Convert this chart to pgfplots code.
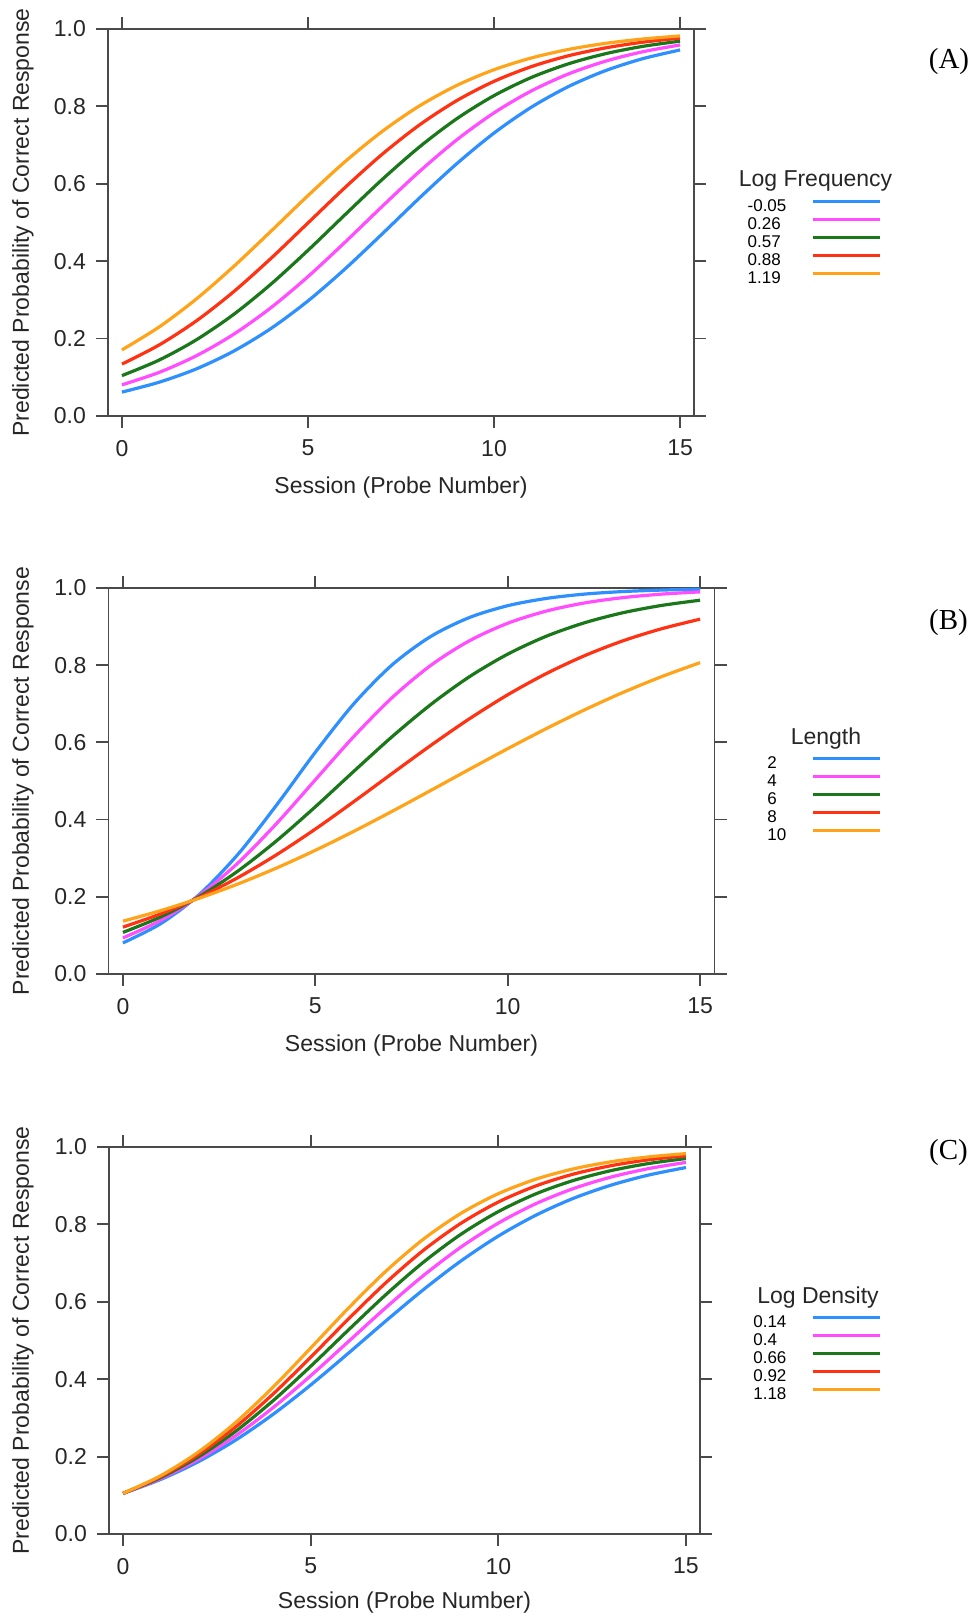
\documentclass[border=0pt]{standalone}
\usepackage{fontspec}
\setmainfont{Liberation Sans}
\newfontfamily\seriffont{Liberation Serif}
\usepackage{pgfplots}
\usepackage{pgfplotstable}
\pgfplotsset{compat=1.18}

\definecolor{cblue}{HTML}{2E8FFF}
\definecolor{cmag}{HTML}{FF4DFF}
\definecolor{cgreen}{HTML}{1A781A}
\definecolor{cred}{HTML}{FF3314}
\definecolor{corange}{HTML}{FFA31A}
\definecolor{frame}{HTML}{4A4A4A}

% panel A: log frequency
\pgfplotstableread{
x a1 a2 a3 a4 a5
0 0.0618 0.0805 0.1043 0.1341 0.1708
1 0.0873 0.1127 0.1445 0.1835 0.2300
2 0.1217 0.1556 0.1969 0.2458 0.3024
3 0.1674 0.2110 0.2623 0.3210 0.3861
4 0.2258 0.2795 0.3403 0.4068 0.4770
5 0.2973 0.3601 0.4280 0.4988 0.5695
6 0.3804 0.4494 0.5205 0.5907 0.6575
7 0.4710 0.5421 0.6116 0.6768 0.7357
8 0.5637 0.6321 0.6955 0.7523 0.8015
9 0.6520 0.7136 0.7682 0.8150 0.8542
10 0.7311 0.7833 0.8278 0.8647 0.8947
11 0.7977 0.8398 0.8746 0.9026 0.9250
12 0.8512 0.8838 0.9100 0.9308 0.9471
13 0.8925 0.9169 0.9362 0.9512 0.9629
14 0.9233 0.9412 0.9551 0.9659 0.9741
15 0.9458 0.9587 0.9686 0.9763 0.9820
}\freqtable

% panel B: length
\pgfplotstableread{
x a1 a2 a3 a4 a5
0 0.0805 0.0934 0.1077 0.1214 0.1368
1 0.1315 0.1399 0.1487 0.1564 0.1647
2 0.2073 0.2044 0.2017 0.1992 0.1969
3 0.3113 0.2886 0.2676 0.2503 0.2336
4 0.4386 0.3906 0.3457 0.3094 0.2749
5 0.5744 0.5030 0.4331 0.3754 0.3204
6 0.7000 0.6152 0.5250 0.4465 0.3696
7 0.8012 0.7163 0.6152 0.5197 0.4216
8 0.8744 0.7995 0.6980 0.5921 0.4755
9 0.9233 0.8630 0.7698 0.6608 0.5300
10 0.9541 0.9086 0.8286 0.7233 0.5837
11 0.9729 0.9401 0.8749 0.7781 0.6355
12 0.9842 0.9613 0.9100 0.8247 0.6844
13 0.9908 0.9751 0.9360 0.8633 0.7295
14 0.9946 0.9841 0.9548 0.8944 0.7703
15 0.9969 0.9899 0.9683 0.9192 0.8066
}\lentable

% panel C: log density
\pgfplotstableread{
x a1 a2 a3 a4 a5
0 0.1050 0.1050 0.1050 0.1050 0.1050
1 0.1409 0.1433 0.1458 0.1482 0.1506
2 0.1865 0.1926 0.1989 0.2050 0.2113
3 0.2427 0.2539 0.2654 0.2767 0.2882
4 0.3094 0.3267 0.3446 0.3619 0.3797
5 0.3851 0.4090 0.4334 0.4569 0.4805
6 0.4668 0.4968 0.5267 0.5550 0.5830
7 0.5503 0.5847 0.6182 0.6490 0.6787
8 0.6311 0.6675 0.7020 0.7328 0.7615
9 0.7052 0.7411 0.7742 0.8026 0.8283
10 0.7698 0.8033 0.8330 0.8578 0.8794
11 0.8237 0.8535 0.8789 0.8994 0.9168
12 0.8673 0.8925 0.9135 0.9299 0.9434
13 0.9013 0.9222 0.9389 0.9516 0.9618
14 0.9274 0.9441 0.9572 0.9669 0.9744
15 0.9469 0.9602 0.9702 0.9774 0.9829
}\dentable

\pgfplotsset{
  probe/.style={
    scale only axis,
    anchor=south west,
    clip=false,
    xmin=-0.375, xmax=15.375, ymin=0, ymax=1,
    xtick={0,5,10,15}, ytick={0,0.2,0.4,0.6,0.8,1.0},
    tick align=outside, tick pos=both,
    major tick length=6pt,
    axis line style={frame, line width=0.9pt},
    every tick/.style={frame, line width=0.9pt},
    tick label style={font=\fontsize{11.5}{13}\selectfont, black!85},
    xticklabel style={yshift=-2.5pt},
    yticklabel style={xshift=-1.5pt, /pgf/number format/.cd, fixed, fixed zerofill, precision=1},
    /pgf/number format/assume math mode=true,
    label style={font=\fontsize{11.5}{13}\selectfont, black!85},
    xlabel={Session (Probe Number)},
    ylabel={Predicted Probability of Correct Response},
    legend plot pos=right,
    legend cell align=left,
    legend image code/.code={\draw[##1] (0pt,3pt) -- (33.5pt,3pt);},
    legend style={draw=none, fill=none, inner sep=0pt, row sep=0pt,
      column sep=12.5pt, anchor=north east,
      font=\fontsize{8.5}{9}\selectfont,
      nodes={inner sep=0pt, text height=6.5pt, text depth=2.5pt}},
    every axis plot/.append style={line width=1.6pt, smooth},
  }
}

\begin{document}
\begin{tikzpicture}
\path[use as bounding box] (0pt,0pt) rectangle (487pt,808pt);

% (A)
\begin{axis}[probe, at={(54pt,600pt)}, width=293pt, height=193.5pt,
  xlabel style={at={(axis description cs:0.5,-0.1845)}, anchor=center},
  ylabel style={at={(axis description cs:-0.145,0.5)}, anchor=center},
  legend style={at={(1.3208,0.564)}}]
\addplot[cblue]   table[x=x, y=a1] {\freqtable};
\addplot[cmag]    table[x=x, y=a2] {\freqtable};
\addplot[cgreen]  table[x=x, y=a3] {\freqtable};
\addplot[cred]    table[x=x, y=a4] {\freqtable};
\addplot[corange] table[x=x, y=a5] {\freqtable};
\legend{-0.05, 0.26, 0.57, 0.88, 1.19}
\end{axis}

% (B)
\begin{axis}[probe, at={(54.25pt,321pt)}, width=303pt, height=193pt,
  xlabel style={at={(axis description cs:0.5,-0.185)}, anchor=center},
  ylabel style={at={(axis description cs:-0.141,0.5)}, anchor=center},
  legend style={at={(1.2764,0.5666)}}]
\addplot[cblue]   table[x=x, y=a1] {\lentable};
\addplot[cmag]    table[x=x, y=a2] {\lentable};
\addplot[cgreen]  table[x=x, y=a3] {\lentable};
\addplot[cred]    table[x=x, y=a4] {\lentable};
\addplot[corange] table[x=x, y=a5] {\lentable};
\legend{2, 4, 6, 8, 10}
\end{axis}

% (C)
\begin{axis}[probe, at={(54.5pt,41pt)}, width=295.5pt, height=193.5pt,
  xlabel style={at={(axis description cs:0.5,-0.178)}, anchor=center},
  ylabel style={at={(axis description cs:-0.1455,0.5)}, anchor=center},
  legend style={at={(1.308,0.5677)}}]
\addplot[cblue]   table[x=x, y=a1] {\dentable};
\addplot[cmag]    table[x=x, y=a2] {\dentable};
\addplot[cgreen]  table[x=x, y=a3] {\dentable};
\addplot[cred]    table[x=x, y=a4] {\dentable};
\addplot[corange] table[x=x, y=a5] {\dentable};
\legend{0.14, 0.4, 0.66, 0.92, 1.18}
\end{axis}

% legend titles and panel letters
\begin{scope}[font=\fontsize{11.5}{13}\selectfont, text=black!85]
\node[anchor=base] at (407.75pt,714.65pt) {Log Frequency};
\node[anchor=base] at (413pt,435.5pt) {Length};
\node[anchor=base] at (409pt,156.35pt) {Log Density};
\end{scope}
\begin{scope}[font=\seriffont\fontsize{14.5}{16}\selectfont]
\node at (474.5pt,777pt) {(A)};
\node at (474.25pt,496.5pt) {(B)};
\node at (474.25pt,231.5pt) {(C)};
\end{scope}
\end{tikzpicture}
\end{document}
